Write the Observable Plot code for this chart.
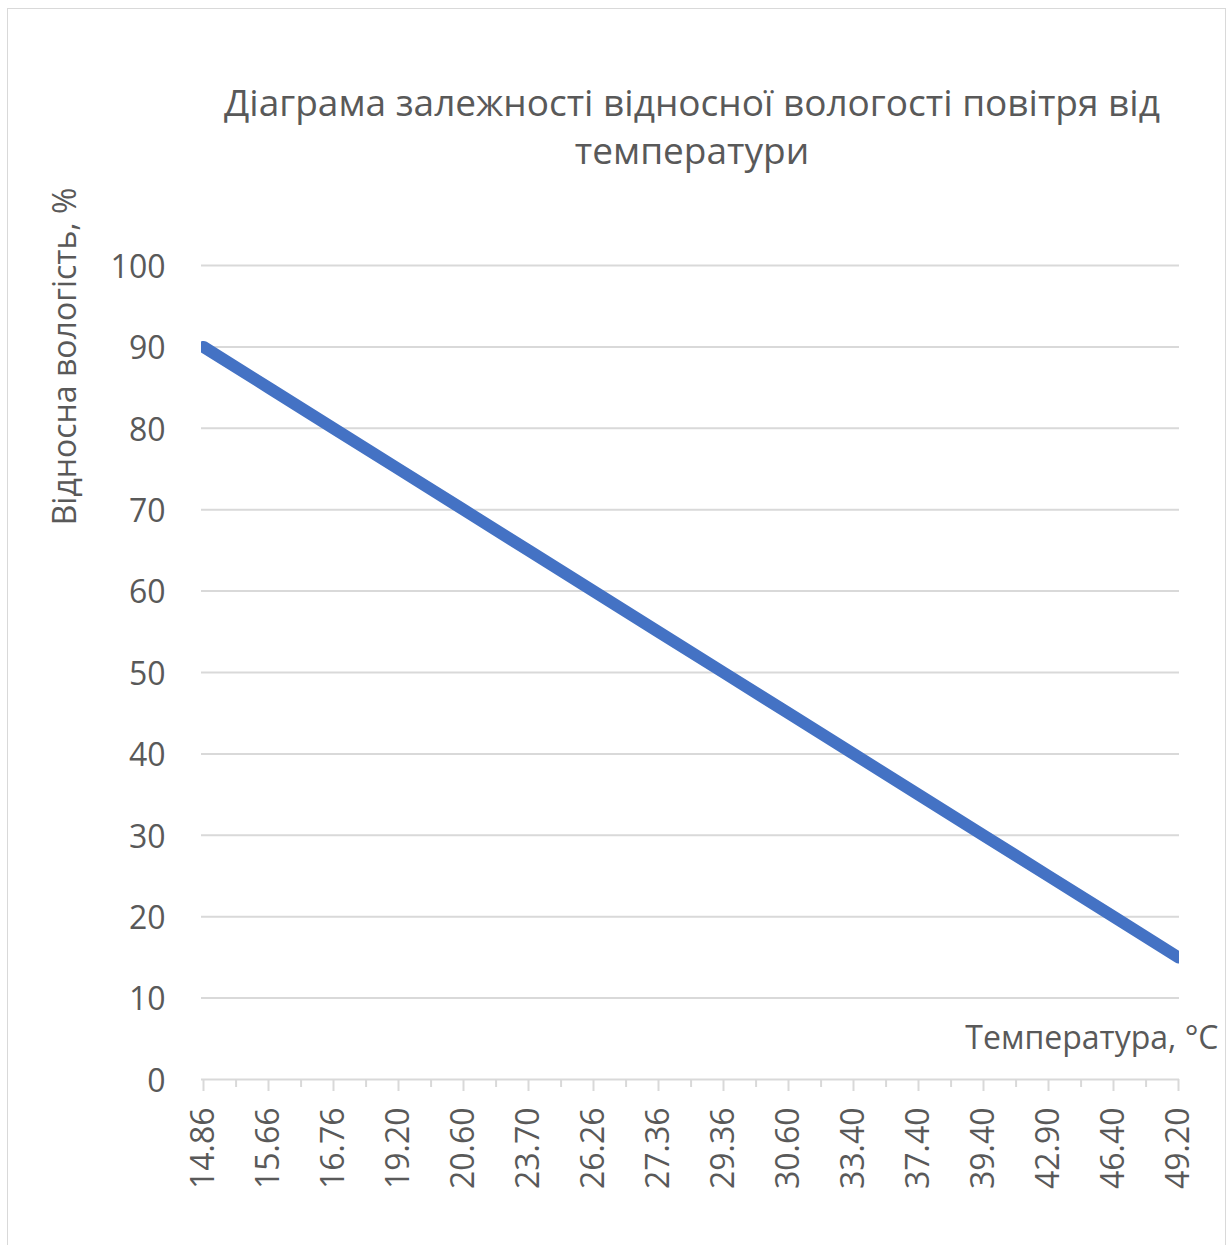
<!DOCTYPE html>
<html>
<head>
<meta charset="utf-8">
<script src="https://cdn.jsdelivr.net/npm/d3@7"></script>
<script src="https://cdn.jsdelivr.net/npm/@observablehq/plot@0.6"></script>
<style>
  body { margin: 0; background: #fff; font-family: "Open Sans", sans-serif; }
  #wrap { position: relative; width: 1231px; height: 1245px; overflow: hidden; background: #fff; }
  #border { position: absolute; left: 7px; top: 8px; width: 1219px; height: 1300px; border: 1.5px solid #d9d9d9; box-sizing: border-box; }
  #title { position: absolute; left: 153px; width: 1078px; top: 78px; text-align: center; font-size: 37px; line-height: 48px; color: #595959; }
  #chart { position: absolute; left: 0; top: 180px; }
</style>
</head>
<body>
<div id="wrap">
  <div id="border"></div>
  <div id="title">Діаграма залежності відносної вологості повітря від<br>температури</div>
  <div id="chart"></div>
</div>
<script>
const temperatures = ["14.86","15.66","16.76","19.20","20.60","23.70","26.26","27.36","29.36","30.60","33.40","37.40","39.40","42.90","46.40","49.20"];
const humidity = [90, 85, 80, 75, 70, 65, 60, 55, 50, 45, 40, 35, 30, 25, 20, 15];
const yTicks = [0, 10, 20, 30, 40, 50, 60, 70, 80, 90, 100];
const yLabel = "Відносна вологість, %";
const xLabel = "Температура, °C";

const data = temperatures.map((t, i) => ({t, h: humidity[i]}));

const W = 1231, H = 1065, mL = 201, mR = 52, mT = 85, mB = 166;
const halfStep = (W - mL - mR) / (temperatures.length - 1) / 2;

const chart = Plot.plot({
  width: W, height: H,
  marginLeft: mL, marginRight: mR, marginTop: mT, marginBottom: mB,
  style: { fontFamily: "Open Sans", fontSize: "32px", color: "#595959", background: "transparent", overflow: "visible" },
  x: { type: "point", domain: temperatures, padding: 0 },
  y: { domain: [0, 100] },
  marks: [
    Plot.gridY(yTicks.slice(1), { stroke: "#d9d9d9", strokeOpacity: 1, strokeWidth: 2 }),
    Plot.ruleY([0], { stroke: "#d9d9d9", strokeWidth: 2 }),
    Plot.axisX({ tickSize: 12, tickPadding: 16, tickRotate: -90, stroke: "#d9d9d9", strokeWidth: 2, fill: "#595959", label: null }),
    Plot.axisX(temperatures.slice(0, -1), { tickSize: 8, dx: halfStep, stroke: "#d9d9d9", strokeWidth: 2, fill: "none", label: null }),
    Plot.axisY(yTicks, { tickSize: 0, tickPadding: 36, fill: "#595959", label: null, dy: 2 }),
    Plot.lineY(data, { x: "t", y: "h", stroke: "#4472C4", strokeWidth: 12, clip: true }),
    Plot.text([yLabel], { frameAnchor: "top-left", textAnchor: "middle", lineAnchor: "middle", rotate: -90, dx: -136, dy: 91, fill: "#595959", fontSize: 32 }),
    Plot.text([xLabel], { frameAnchor: "bottom-right", textAnchor: "end", lineAnchor: "middle", dx: 39, dy: -41, fill: "#595959", fontSize: 32 })
  ]
});
document.getElementById("chart").appendChild(chart);
</script>
</body>
</html>
